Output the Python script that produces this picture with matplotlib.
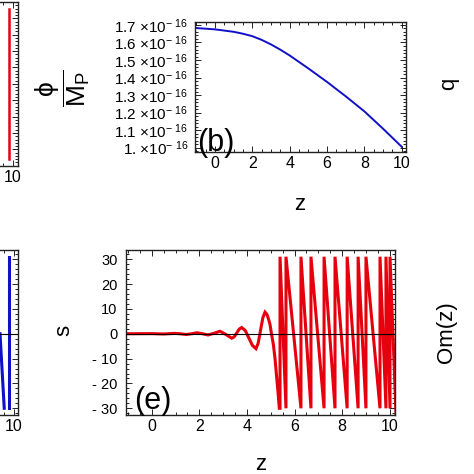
import matplotlib.pyplot as plt
from matplotlib.ticker import MultipleLocator, FixedLocator, FixedFormatter

plt.rcParams['font.family'] = ['Liberation Sans', 'DejaVu Sans']
plt.rcParams['mathtext.fontset'] = 'custom'
plt.rcParams['mathtext.rm'] = 'Liberation Sans'
plt.rcParams['mathtext.it'] = 'Liberation Sans'
plt.rcParams['mathtext.bf'] = 'Liberation Sans:bold'
plt.rcParams['mathtext.fallback'] = 'stixsans'

# panel (b): phi / M_P, values in units of 1e-16
phi_z = [-1.07, 0, 1, 1.5, 2, 2.5, 3, 3.5, 4, 5, 6, 7, 8, 9, 10]
phi_val = [1.683, 1.675, 1.661, 1.650, 1.636, 1.615, 1.589, 1.559, 1.526, 1.452, 1.375,
           1.293, 1.207, 1.108, 1.005]
b_yticks = [1.0, 1.1, 1.2, 1.3, 1.4, 1.5, 1.6, 1.7]
b_ylabels = ['1. ×10$^{-\\ 16}$', '1.1 ×10$^{-\\ 16}$', '1.2 ×10$^{-\\ 16}$', '1.3 ×10$^{-\\ 16}$',
             '1.4 ×10$^{-\\ 16}$', '1.5 ×10$^{-\\ 16}$', '1.6 ×10$^{-\\ 16}$', '1.7 ×10$^{-\\ 16}$']

# panel (e): s(z) before the poles
s_z = [-1.08, 0.0, 0.5, 0.95, 1.2, 1.45, 1.68, 1.9, 2.13, 2.37, 2.62, 2.87, 3.1, 3.36, 3.46,
       3.57, 3.68, 3.78, 3.93, 4.08, 4.23, 4.38, 4.47, 4.57, 4.67, 4.76, 4.84, 4.91, 4.97,
       5.03, 5.11, 5.18, 5.25, 5.31, 5.36]
s_val = [0.0, 0.05, -0.1, 0.15, 0.0, -0.3, 0.0, 0.4, 0.0, -0.5, 0.2, 1.0, -0.2, -1.8, -1.3,
         0.3, 1.9, 2.5, 1.3, -1.7, -4.7, -6.0, -3.9, 1.3, 6.5, 8.7, 7.8, 5.8, 3.7,
         0.0, -4.3, -10.0, -17.6, -24.0, -30.0]
# z positions of the jumps (poles) after z ~ 5.4
s_poles = [5.39, 5.64, 6.27, 6.69, 7.24, 7.70, 8.21, 8.67, 9.00, 9.59, 9.84, 10.01]
s_low, s_high = -30, 31
s_end = 10.3

# slivers of neighbouring panels (a) and (d)
a_z = [9.78, 9.78]
a_val = [0.04, 0.96]
d_z = [9.28, 9.50]
d_val = [0.0, -30.0]
d_jump = 9.77

RED = '#e6000d'
BLUE = '#1010c8'
W = 474.0


def frac(x0, y0, x1, y1):
    return [x0 / W, 1 - y1 / W, (x1 - x0) / W, (y1 - y0) / W]


def style(ax, xminor, yminor, ticksize=11):
    ax.tick_params(which='both', direction='in', top=True, right=True, width=0.6,
                   labelsize=ticksize, pad=3)
    ax.tick_params(which='major', length=4)
    ax.tick_params(which='minor', length=2)
    ax.xaxis.set_minor_locator(MultipleLocator(xminor))
    ax.yaxis.set_minor_locator(MultipleLocator(yminor))
    for sp in ax.spines.values():
        sp.set_linewidth(1.0)
        sp.set_color('#222222')


def sliver_xticks(ax):
    # only the last tick label falls inside the picture
    ax.xaxis.set_major_locator(FixedLocator([0, 2, 4, 6, 8, 10]))
    ax.xaxis.set_major_formatter(FixedFormatter(['', '', '', '', '', '10']))


fig = plt.figure(figsize=(4.74, 4.74), dpi=100)

# --- panel (b)
ax_b = fig.add_axes(frac(195, 22, 406, 152))
ax_b.plot(phi_z, phi_val, color=BLUE, lw=1.4)
ax_b.set_xlim(-1.07, 10.23)
ax_b.set_ylim(0.975, 1.717)
ax_b.xaxis.set_major_locator(MultipleLocator(2))
ax_b.yaxis.set_major_locator(FixedLocator(b_yticks))
ax_b.yaxis.set_major_formatter(FixedFormatter(b_ylabels))
style(ax_b, 0.5, 0.02, 11.5)
ax_b.tick_params(axis='y', labelsize=11, pad=5)

# --- panel (e)
ax_e = fig.add_axes(frac(126, 250, 395, 415))
zs = list(s_z)
vs = list(s_val)
for p in s_poles:
    zs += [p, p]
    vs += [s_low, s_high]
zs.append(s_end)
vs.append(s_low - (s_end - s_poles[-1]) * 40)
ax_e.plot(zs, vs, color=RED, lw=2.2, solid_joinstyle='miter')
ax_e.axhline(0, color='black', lw=0.8, zorder=3)
ax_e.set_xlim(-1.08, 10.22)
ax_e.set_ylim(-32.7, 33.7)
ax_e.xaxis.set_major_locator(MultipleLocator(2))
ax_e.yaxis.set_major_locator(MultipleLocator(10))
ax_e.yaxis.set_major_formatter(lambda v, pos: ('- %d' % -v) if v < 0 else '%d' % v)
style(ax_e, 0.5, 2, 11.5)
ax_e.tick_params(axis='y', labelsize=10.5, pad=6)

# --- sliver of panel (a)
ax_a = fig.add_axes(frac(17.5 - 217.5, 2, 17.5, 165.7))
ax_a.plot(a_z, a_val, color=RED, lw=1.8)
ax_a.set_xlim(-1.07, 10.23)
ax_a.set_ylim(0, 1)
sliver_xticks(ax_a)
ax_a.yaxis.set_major_locator(MultipleLocator(0.1))
ax_a.set_yticklabels([])
style(ax_a, 0.5, 0.02, 11.5)

# --- sliver of panel (d)
ax_d = fig.add_axes(frac(18.3 - 217.5, 250, 18.3, 415))
ax_d.plot(d_z, d_val, color=BLUE, lw=2.2)
ax_d.plot([d_jump, d_jump], [s_low, s_high], color=BLUE, lw=2.2)
ax_d.axhline(0, color='black', lw=0.8, zorder=3)
ax_d.set_xlim(-1.07, 10.23)
ax_d.set_ylim(-32.7, 33.7)
sliver_xticks(ax_d)
ax_d.yaxis.set_major_locator(MultipleLocator(10))
ax_d.set_yticklabels([])
style(ax_d, 0.5, 2, 11.5)

# labels and panel tags
fig.text(63 / W, 1 - 88 / W, r'$\dfrac{\phi}{\mathrm{M_P}}$', rotation=90,
         ha='center', va='center', fontsize=19)
fig.text(300 / W, 1 - 205 / W, 'z', ha='center', va='center', fontsize=16)
fig.text(261 / W, 1 - 465 / W, 'z', ha='center', va='center', fontsize=16)
fig.text(63.5 / W, 1 - 330 / W, 's', rotation=90, ha='center', va='center', fontsize=16)
fig.text(449 / W, 1 - 84 / W, 'q', rotation=90, ha='center', va='center', fontsize=16)
fig.text(446 / W, 1 - 332 / W, 'Om(z)', rotation=90, ha='center', va='center', fontsize=16)
fig.text(216 / W, 1 - 143 / W, '(b)', ha='center', va='center', fontsize=22)
fig.text(153 / W, 1 - 401 / W, '(e)', ha='center', va='center', fontsize=22)

fig.savefig('out.png', dpi=100)
